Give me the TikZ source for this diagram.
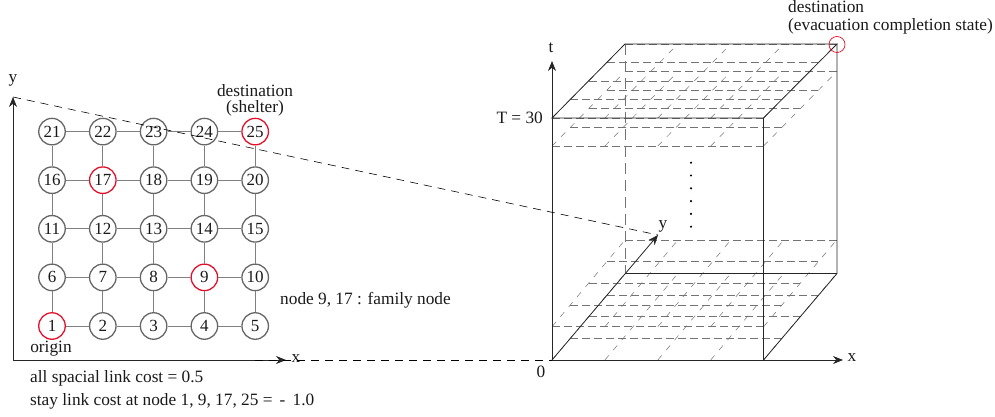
\documentclass[tikz,border=0pt]{standalone}
\usepackage{fontspec}
\setmainfont{Liberation Serif}
\usetikzlibrary{arrows.meta}
\definecolor{famred}{HTML}{E2102A}
\tikzset{
  gridnode/.style={circle,draw=black!60,line width=1.3pt,minimum size=26.5pt,inner sep=0pt,font=\fontsize{17pt}{18pt}\selectfont,text=black!90},
  famnode/.style={gridnode,draw=famred},
  gridlink/.style={black!50,line width=1pt},
  axisline/.style={-{Stealth[length=10pt,width=8pt]},line width=0.8pt,black!85},
  cubeline/.style={line width=0.8pt,black!85},
  longdash/.style={dash pattern=on 8pt off 6pt,line width=0.6pt},
  planedash/.style={dash pattern=on 8pt off 4pt,line width=0.7pt,black!55},
  slantdash/.style={dash pattern=on 6pt off 7pt,line width=0.5pt,black!55},
  lbl/.style={font=\fontsize{17.3pt}{16pt}\selectfont,inner sep=0pt,text=black!90},
}
\begin{document}
\begin{tikzpicture}[x=1pt,y=-1pt]
        \useasboundingbox (0,0) rectangle (995,417);

        % Network nodes
        \foreach \n/\kind in {1/famnode,2/gridnode,3/gridnode,4/gridnode,5/gridnode,
            6/gridnode,7/gridnode,8/gridnode,9/famnode,10/gridnode,
            11/gridnode,12/gridnode,13/gridnode,14/gridnode,15/gridnode,
            16/gridnode,17/famnode,18/gridnode,19/gridnode,20/gridnode,
            21/gridnode,22/gridnode,23/gridnode,24/gridnode,25/famnode}{
            \pgfmathtruncatemacro{\col}{mod(\n-1,5)}
            \pgfmathtruncatemacro{\row}{div(\n-1,5)}
            \node[\kind] (n\n) at ({52+50.8*\col},{326-48.6*\row}) {\n};
        }

        % Network links
        \foreach \n in {1,...,20}{
            \pgfmathtruncatemacro{\up}{\n+5}
            \draw[gridlink] (n\n) -- (n\up);
        }
        \foreach \n in {1,...,24}{
            \pgfmathtruncatemacro{\nxt}{\n+1}
            \pgfmathtruncatemacro{\rest}{mod(\n,5)}
            \ifnum\rest>0 \draw[gridlink] (n\n) -- (n\nxt); \fi
        }

        % Left axes
        \coordinate (oL) at (13,360);
        \coordinate (xL) at (286,360);
        \coordinate (yL) at (13,97);
        \draw[axisline] (oL) -- (xL);
        \draw[axisline] (oL) -- (yL);
        \node[lbl] (xLabelL) at (296,359) {x};
        \node[lbl] (yLabelL) at (13,80) {y};

        % Cube corners
        \coordinate (fbl) at (552,360);
        \coordinate (fbr) at (763.5,360);
        \coordinate (ftl) at (552,118);
        \coordinate (ftr) at (763.5,118);
        \coordinate (bbl) at (625,273.5);
        \coordinate (bbr) at (837,273.5);
        \coordinate (btl) at (625,44);
        \coordinate (btr) at (837,44);

        % Time layers
        \foreach \fy/\dp in {360/86.5,326.7/86.7,146/74.3,118/74}{
            \foreach \k in {0,...,4}{
                \draw[planedash] ({552+18.25*\k},{\fy-\dp*\k/4}) -- ({763.5+18.25*\k},{\fy-\dp*\k/4});
                \draw[slantdash] ({552+52.9*\k},\fy) -- ({625+52.9*\k},{\fy-\dp});
            }
        }
        \draw[planedash,dash pattern=on 11pt off 6pt,line width=0.9pt] (btl) -- (bbl);

        % Cube edges
        \draw[cubeline] (ftl) -- (ftr) -- (btr) -- (btl) -- cycle;
        \draw[cubeline] (ftl) -- (fbl);
        \draw[cubeline] (ftr) -- (fbr) -- (bbr) -- (btr);
        \draw[cubeline] (bbl) -- (bbr);

        % Right axes
        \coordinate (xR) at (843,360);
        \coordinate (yR) at (658,235);
        \coordinate (tR) at (552,61);
        \draw[axisline] (fbl) -- (xR);
        \draw[axisline] (fbl) -- (yR);
        \draw[axisline] (fbl) -- (tR);
        \node[lbl] (xLabelR) at (852,358) {x};
        \node[lbl] (yLabelR) at (663,226) {y};
        \node[lbl] (tLabel) at (551,48) {t};
        \node[lbl] (zeroLabel) at (541,372) {0};
        \node[lbl,anchor=east] (tMax) at (543,118) {T = 30};

        % Dots
        \foreach \k in {0,...,5}{
            \fill[black] (691,{162.7+12.8*\k}) circle (1.2pt);
        }

        % Projection lines
        \draw[longdash] (yL) -- (yR);
        \draw[longdash] (255,360) -- (fbl);

        % Destination mark
        \node[circle,draw=famred,line width=0.7pt,minimum size=16pt,inner sep=0pt] (dest) at (837,44.5) {};

        % Labels
        \node[lbl,align=center] (shelter) at (255,100) {destination\\(shelter)};
        \node[lbl] (origin) at (51,349) {origin};
        \node[lbl,anchor=west] (family) at (280,300) {node 9, 17 : family node};
        \node[lbl,anchor=west] (spatial) at (30,378) {all spacial link cost = 0.5};
        \node[lbl,anchor=west] (stay) at (30,401) {stay link cost at node 1, 9, 17, 25 = \,-\, 1.0};
        \node[lbl,anchor=west] (state) at (788,26) {(evacuation completion state)};
        \node[lbl,anchor=west] (destLabel) at (788,6.5) {destination};
\end{tikzpicture}
\end{document}
